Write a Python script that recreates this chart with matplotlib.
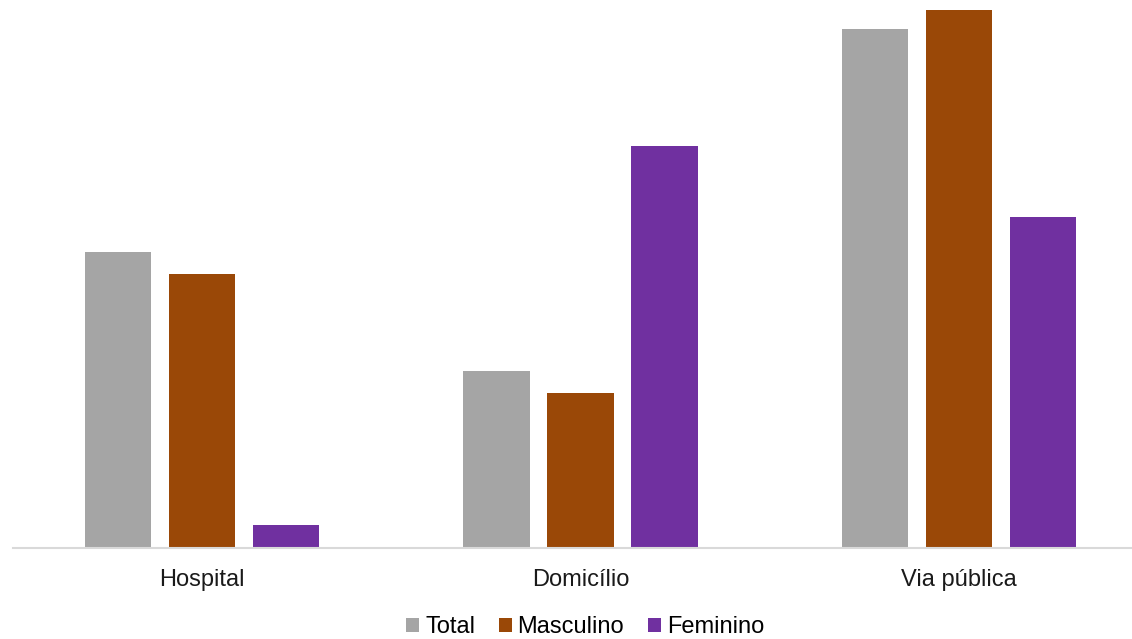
import numpy as np
import matplotlib.pyplot as plt

plt.rcParams['font.family'] = ['Liberation Sans', 'DejaVu Sans']

# data (arbitrary units)
categories = ['Hospital', 'Domicílio', 'Via pública']
total = [296, 177, 519]
masculino = [274, 155, 538]
feminino = [23, 402, 331]
series = ['Total', 'Masculino', 'Feminino']
colors = ['#A5A5A5', '#9A4807', '#7030A0']

fig = plt.figure(figsize=(11.32, 6.39), dpi=100)
W, H = 1132, 639
ax = fig.add_axes([13 / W, (H - 548) / H, 1135 / W, 548 / H])

x = np.arange(len(categories))
bw = 0.175
step = 0.222
for i, (vals, name) in enumerate(zip([total, masculino, feminino], series)):
    ax.bar(x + (i - 1) * step, vals, width=bw, color=colors[i], label=name)

ax.set_xlim(-0.5, 2.5)
ax.set_ylim(0, 548)
ax.set_xticks(x)
ax.set_xticklabels(categories, fontsize=17, color='#1a1a1a')
ax.tick_params(axis='x', length=0, pad=15)
ax.set_yticks([])
for s in ['left', 'right', 'top']:
    ax.spines[s].set_visible(False)
ax.spines['bottom'].set_color('#D9D9D9')
ax.spines['bottom'].set_linewidth(1.5)

fig.legend(loc='center', bbox_to_anchor=(585 / W, 1 - 627 / H), ncol=3,
           frameon=False, fontsize=17, handlelength=0.55, handleheight=0.55,
           handletextpad=0.25, columnspacing=1.0, borderpad=0)

fig.savefig('out.png', dpi=100)
